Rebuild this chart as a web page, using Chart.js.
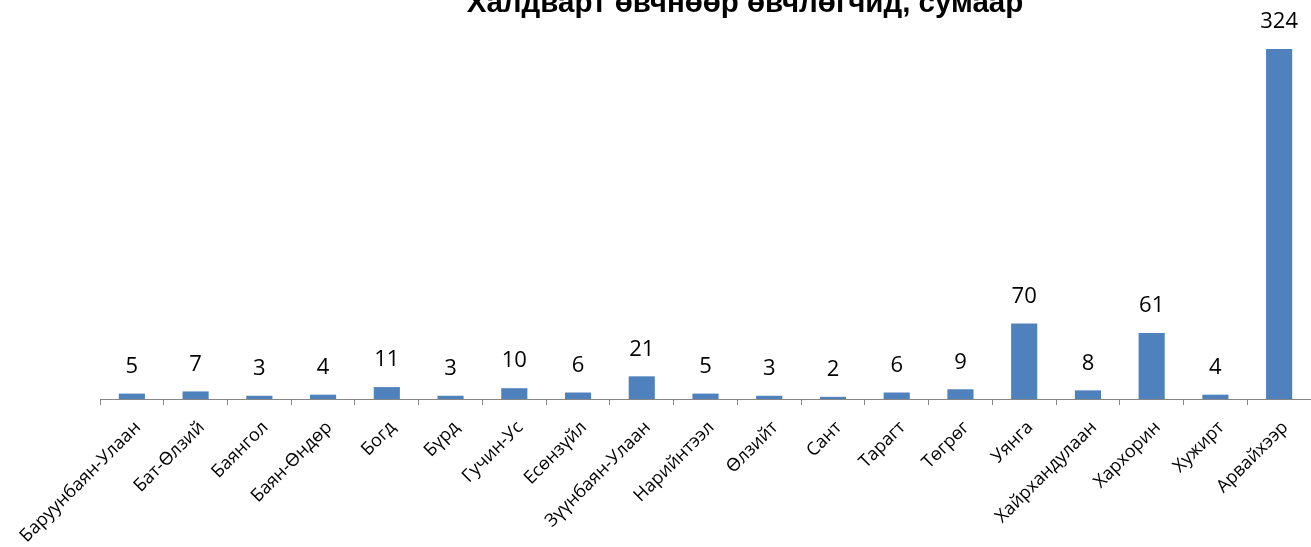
<!DOCTYPE html>
<html lang="mn">
<head>
<meta charset="UTF-8" />
<title>Халдварт өвчнөөр өвчлөгчид, сумаар</title>
<style>
    body { margin: 0; background: #fff; }
    .wrap { position: relative; width: 1311px; height: 547px; }
</style>
</head>
<body>
<div class="wrap"><canvas id="chart"></canvas></div>
<script src="https://cdn.jsdelivr.net/npm/chart.js"></script>
<script>
    // Data
    const chartTitle = 'Халдварт өвчнөөр өвчлөгчид, сумаар';
    const soums = [
        'Баруунбаян-Улаан', 'Бат-Өлзий', 'Баянгол', 'Баян-Өндөр', 'Богд',
        'Бүрд', 'Гучин-Ус', 'Есөнзүйл', 'Зүүнбаян-Улаан', 'Нарийнтээл',
        'Өлзийт', 'Сант', 'Тарагт', 'Төгрөг', 'Уянга',
        'Хайрхандулаан', 'Хархорин', 'Хужирт', 'Арвайхээр'
    ];
    const cases = [5, 7, 3, 4, 11, 3, 10, 6, 21, 5, 3, 2, 6, 9, 70, 8, 61, 4, 324];

    // title drawn by hand (it is clipped at the top edge in the original)
    const titlePlugin = {
        id: 'topTitle',
        afterDraw(chart) {
            const ctx = chart.ctx;
            ctx.save();
            ctx.font = 'bold 29.5px "Liberation Sans", Arial, sans-serif';
            ctx.fillStyle = '#000';
            ctx.textAlign = 'center';
            ctx.textBaseline = 'alphabetic';
            ctx.fillText(chartTitle, 745, 12);
            ctx.restore();
        }
    };

    // value labels above bars
    const valueLabels = {
        id: 'valueLabels',
        afterDatasetsDraw(chart) {
            const ctx = chart.ctx;
            const meta = chart.getDatasetMeta(0);
            ctx.save();
            ctx.font = '22px "Open Sans", sans-serif';
            ctx.fillStyle = '#000';
            ctx.textAlign = 'center';
            ctx.textBaseline = 'middle';
            meta.data.forEach((bar, i) => {
                ctx.fillText(cases[i], bar.x, bar.y - 27);
            });
            ctx.restore();
        }
    };

    new Chart(document.getElementById('chart'), {
        type: 'bar',
        data: {
            labels: soums,
            datasets: [{
                data: cases,
                backgroundColor: '#4f81bd',
                barPercentage: 0.41,
                categoryPercentage: 1
            }]
        },
        options: {
            responsive: true,
            maintainAspectRatio: false,
            animation: false,
            layout: { padding: { left: 100, right: 0, top: 49, bottom: 0 } },
            plugins: {
                legend: { display: false },
                tooltip: { enabled: false }
            },
            scales: {
                y: {
                    display: false,
                    min: 0,
                    max: 324
                },
                x: {
                    afterFit(axis) {
                        axis.height = 148;
                        axis.paddingLeft = 0;
                        axis.paddingRight = 0;
                    },
                    border: { display: true, color: '#868686', width: 1 },
                    grid: {
                        offset: true,
                        drawOnChartArea: false,
                        drawTicks: true,
                        tickLength: 6,
                        color: '#868686'
                    },
                    ticks: {
                        color: '#000',
                        font: { family: '"Open Sans", sans-serif', size: 18 },
                        minRotation: 45,
                        maxRotation: 45,
                        autoSkip: false,
                        padding: 12,
                        labelOffset: 6
                    }
                }
            }
        },
        plugins: [titlePlugin, valueLabels]
    });
</script>
</body>
</html>
